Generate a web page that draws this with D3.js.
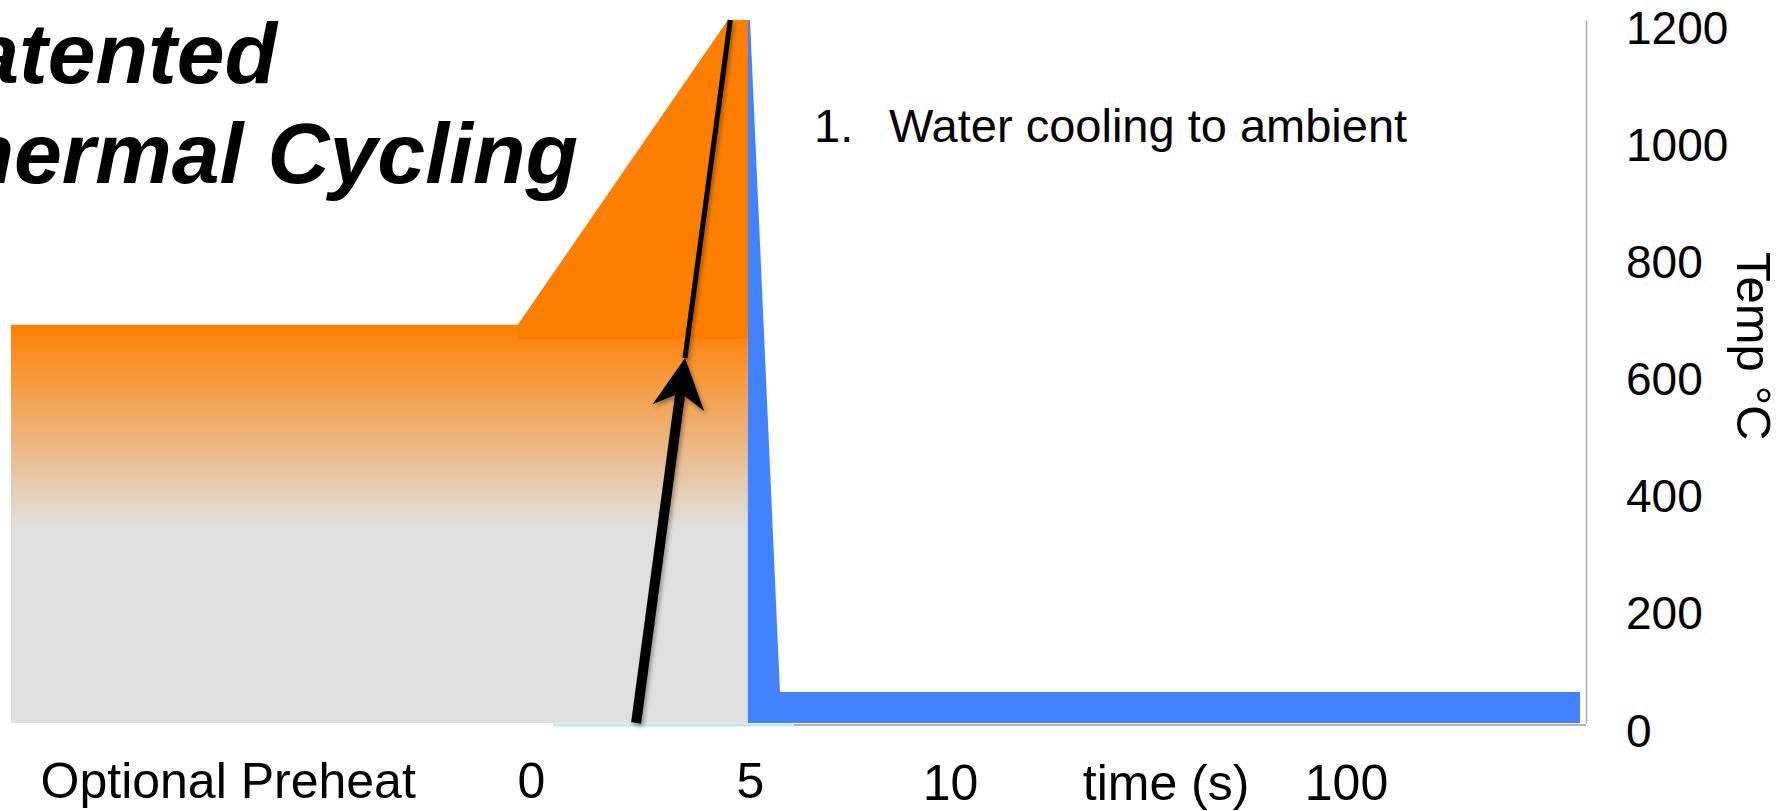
<!DOCTYPE html>
<html>
<head>
<meta charset="utf-8">
<script src="https://cdn.jsdelivr.net/npm/d3@7/dist/d3.min.js"></script>
<style>
  body { margin: 0; background: #fff; }
  svg text { font-family: "Liberation Sans", Arial, Helvetica, sans-serif; fill: #000; }
</style>
</head>
<body>
<div id="chart"></div>
<script>
// heating curve: time (s) / temp (°C), filled orange fading to grey
var heatTime = [-12, -0.3, 4.5, 4.95];
var heatTemp = [680, 680, 1200, 1200];
// solid orange part of the spike, sits on top of the fade
var spikeTime = [-0.3, 4.5, 4.95];
var spikeTemp = [680, 1200, 1200];
var spikeBase = 655;
// the fade runs between these two temps
var fadeTemps = [680, 330];

// water quench
var coolTime = [4.95, 5, 5.75, 158.5];
var coolTemp = [1200, 1200, 53, 53];

// thin cyan line along the bottom
var baseLineTime = [0.5, 6.1];

// arrow annotation
var arrowTime = [2.4, 4.55];
var arrowTemp = [0, 1200];
var arrowHeadTemp = 623;

// axis
var timeBreaks = [-12, 0, 5, 10, 100, 160];
var xTicks = [-7, 0, 5, 10, 59, 100];
var xTickLabels = ["Optional Preheat", "0", "5", "10", "time (s)", "100"];
var yTicks = [0, 200, 400, 600, 800, 1000, 1200];

var width = 1783,
  height = 811;

var svg = d3
  .select("#chart")
  .append("svg")
  .attr("width", width)
  .attr("height", height);

// broken time axis, one linear piece per break
var x = d3
  .scaleLinear()
  .domain(timeBreaks)
  .range([11, 531, 750, 950, 1346, 1586]);
var y = d3
  .scaleLinear()
  .domain([0, 1200])
  .range([723, 20]);

var defs = svg.append("defs");
var grad = defs
  .append("linearGradient")
  .attr("id", "heatfade")
  .attr("gradientUnits", "userSpaceOnUse")
  .attr("x1", 0)
  .attr("x2", 0)
  .attr("y1", y(fadeTemps[0]))
  .attr("y2", y(fadeTemps[1]));
grad.append("stop").attr("offset", 0).attr("stop-color", "#fe7f00");
grad.append("stop").attr("offset", 1).attr("stop-color", "#e0e0e0");

var shadow = defs
  .append("filter")
  .attr("id", "shadow")
  .attr("x", "-50%")
  .attr("y", "-10%")
  .attr("width", "200%")
  .attr("height", "120%");
shadow
  .append("feDropShadow")
  .attr("dx", 2)
  .attr("dy", 3)
  .attr("stdDeviation", 2)
  .attr("flood-color", "#000")
  .attr("flood-opacity", 0.35);

function series(ts, vs) {
  return ts.map(function(t, i) {
    return [t, vs[i]];
  });
}

var area = d3
  .area()
  .x(d => x(d[0]))
  .y0(y(0))
  .y1(d => y(d[1]));

svg
  .append("path")
  .datum(series(heatTime, heatTemp))
  .attr("d", area)
  .attr("fill", "url(#heatfade)");

svg
  .append("path")
  .datum(series(spikeTime, spikeTemp))
  .attr("d", area.y0(y(spikeBase)))
  .attr("fill", "#fe7f00");
area.y0(y(0));

svg
  .append("path")
  .datum(series(coolTime, coolTemp))
  .attr("d", area)
  .attr("fill", "#4382fe");

// bottom lines
var lineAt = d3
  .line()
  .x(d => x(d))
  .y(y(0) + 2);

svg
  .append("path")
  .datum([5, timeBreaks[timeBreaks.length - 1]])
  .attr("d", lineAt)
  .attr("stroke", "#b4b4b4")
  .attr("stroke-width", 2)
  .attr("fill", "none");

svg
  .append("path")
  .datum(baseLineTime)
  .attr("d", lineAt)
  .attr("stroke", "#c2e6e8")
  .attr("stroke-width", 3)
  .attr("fill", "none");

// right hand temp axis
var yAxis = svg
  .append("g")
  .attr("transform", "translate(" + x(timeBreaks[timeBreaks.length - 1]) + ",0)")
  .call(
    d3
      .axisRight(y)
      .tickValues(yTicks)
      .tickFormat(d => String(d))
      .tickSize(0)
      .tickSizeOuter(0)
      .tickPadding(40)
  );
yAxis
  .select(".domain")
  .attr("stroke", "#ababab")
  .attr("stroke-width", 1.5);
yAxis
  .selectAll("text")
  .style("font-size", "46px")
  .attr("dy", "0.5em");

// bottom labels
var xAxis = svg
  .append("g")
  .attr("transform", "translate(0," + y(0) + ")")
  .call(
    d3
      .axisBottom(x)
      .tickValues(xTicks)
      .tickFormat(d => xTickLabels[xTicks.indexOf(d)])
      .tickSize(0)
      .tickPadding(39.5)
  );
xAxis.select(".domain").remove();
xAxis
  .selectAll("text")
  .style("font-size", "50px")
  .attr("dy", d => (d > 5 ? "0.75em" : "0.71em"));

// arrow
var p0 = [x(arrowTime[0]), y(arrowTemp[0])];
var p1 = [x(arrowTime[1]), y(arrowTemp[1])];
var len = Math.hypot(p1[0] - p0[0], p1[1] - p0[1]);
var u = [(p1[0] - p0[0]) / len, (p1[1] - p0[1]) / len];
var n = [-u[1], u[0]];
var s = (p0[1] - y(arrowHeadTemp)) / (p0[1] - p1[1]);
var tip = [p0[0] + s * (p1[0] - p0[0]), p0[1] + s * (p1[1] - p0[1])];
function along(a, b) {
  return [tip[0] + a * u[0] + b * n[0], tip[1] + a * u[1] + b * n[1]];
}
var notch = along(-35, 0);

var arrow = svg.append("g").attr("filter", "url(#shadow)");
arrow
  .append("line")
  .attr("x1", p0[0])
  .attr("y1", p0[1])
  .attr("x2", notch[0])
  .attr("y2", notch[1])
  .attr("stroke", "#000")
  .attr("stroke-width", 10);
arrow
  .append("line")
  .attr("x1", tip[0])
  .attr("y1", tip[1])
  .attr("x2", p1[0])
  .attr("y2", p1[1])
  .attr("stroke", "#000")
  .attr("stroke-width", 5);
arrow
  .append("path")
  .attr(
    "d",
    "M" + tip + "L" + along(-50, 26) + "L" + notch + "L" + along(-50, -26) + "Z"
  )
  .attr("fill", "#000");

// texts
svg
  .append("text")
  .attr("x", 277)
  .attr("y", 83)
  .attr("text-anchor", "end")
  .style("font-size", "86px")
  .style("font-weight", "bold")
  .style("font-style", "italic")
  .text("Patented");
svg
  .append("text")
  .attr("x", 578)
  .attr("y", 183)
  .attr("text-anchor", "end")
  .style("font-size", "86px")
  .style("font-weight", "bold")
  .style("font-style", "italic")
  .text("Thermal Cycling");

svg
  .append("text")
  .attr("x", 814)
  .attr("y", 142)
  .style("font-size", "47px")
  .text("1.");
svg
  .append("text")
  .attr("x", 889)
  .attr("y", 142)
  .style("font-size", "47px")
  .text("Water cooling to ambient");

svg
  .append("text")
  .attr("transform", "translate(1737,252) rotate(90)")
  .style("font-size", "49px")
  .text("Temp °C");
</script>
</body>
</html>
